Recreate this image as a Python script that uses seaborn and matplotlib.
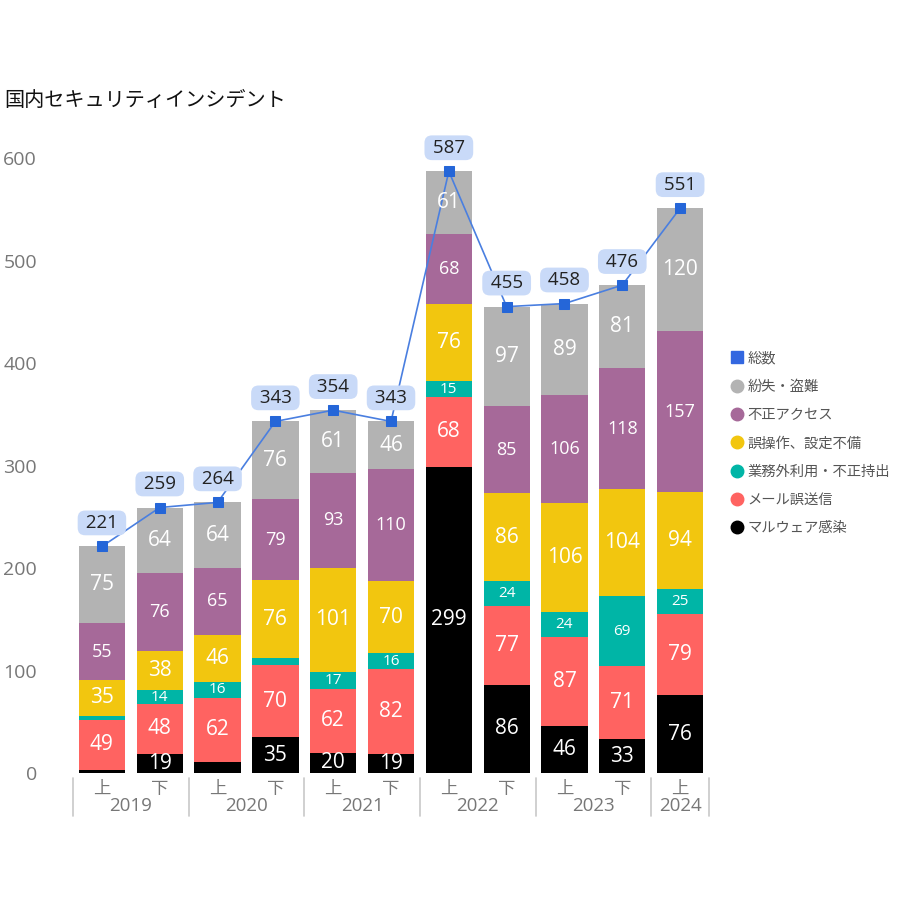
import matplotlib

matplotlib.use("Agg")

import matplotlib.pyplot as plt
import matplotlib.transforms as mtransforms
from matplotlib.lines import Line2D
import numpy as np
import pandas as pd
import seaborn as sns

# ---- データ ----
periods = ["2019上", "2019下", "2020上", "2020下", "2021上", "2021下",
           "2022上", "2022下", "2023上", "2023下", "2024上"]
half_labels = ["上", "下", "上", "下", "上", "下", "上", "下", "上", "下", "上"]
years = ["2019", "2020", "2021", "2022", "2023", "2024"]

malware = [3, 19, 11, 35, 20, 19, 299, 86, 46, 33, 76]
mail_misdelivery = [49, 48, 62, 70, 62, 82, 68, 77, 87, 71, 79]
misuse = [4, 14, 16, 7, 17, 16, 15, 24, 24, 69, 25]
misoperation = [35, 38, 46, 76, 101, 70, 76, 86, 106, 104, 94]
unauthorized = [55, 76, 65, 79, 93, 110, 68, 85, 106, 118, 157]
loss_theft = [75, 64, 64, 76, 61, 46, 61, 97, 89, 81, 120]
totals = [221, 259, 264, 343, 354, 343, 587, 455, 458, 476, 551]

series_names = ["マルウェア感染", "メール誤送信", "業務外利用・不正持出",
                "誤操作、設定不備", "不正アクセス", "紛失・盗難"]
series_values = [malware, mail_misdelivery, misuse, misoperation, unauthorized, loss_theft]
series_colors = ["#000000", "#ff6361", "#00b5a6", "#f2c60f", "#a66999", "#b3b3b3"]
label_sizes = [15, 15, 11, 15, 13, 15]

FONT = ["Noto Sans CJK JP", "DejaVu Sans"]
NUM_FONT = ["Open Sans", "Noto Sans CJK JP"]

sns.set_style("white")
plt.rcParams["font.family"] = FONT

fig = plt.figure(figsize=(9.22, 9.22), dpi=100)
ax = fig.add_axes([0.0792, 0.1616, 0.6898, 0.7226])

df = pd.DataFrame({"period": periods})
cum = np.zeros(len(periods))
cums = []
for vals in series_values:
    cum = cum + np.array(vals)
    cums.append(cum.copy())

# 積み上げ: 上の層から順に累積値で描画
for name, color, c in reversed(list(zip(series_names, series_colors, cums))):
    df["cum"] = c
    sns.barplot(data=df, x="period", y="cum", color=color, width=0.8,
                saturation=1, linewidth=0, ax=ax)

# 値ラベル
for vals, c, size in zip(series_values, cums, label_sizes):
    for i, (v, top) in enumerate(zip(vals, c)):
        if v < 12:
            continue
        ax.text(i, top - v / 2, str(v), ha="center", va="center",
                color="white", fontsize=size, family=NUM_FONT)

# 総数ライン
xpos = np.arange(len(periods))
sns.lineplot(x=xpos, y=totals, color="#4a7fe0", linewidth=1.2, marker="s",
             markersize=7, markerfacecolor="#2566d8", markeredgecolor="#2566d8",
             ax=ax)
for i, t in enumerate(totals):
    ax.text(i, t + 23, f" {t} ", ha="center", va="center", color="#222222",
            fontsize=13.5, family=NUM_FONT,
            bbox=dict(boxstyle="round,pad=0.18,rounding_size=0.4",
                      facecolor="#c9daf8", edgecolor="none"))

ax.set_xlim(-0.5, len(periods) - 0.5)
ax.set_ylim(0, 650)
ax.set_yticks([0, 100, 200, 300, 400, 500, 600])
ax.tick_params(axis="y", length=0, pad=26, labelsize=14, labelcolor="#777777")
for lbl in ax.get_yticklabels():
    lbl.set_family(NUM_FONT)
ax.set_xticks(xpos)
ax.set_xticklabels(half_labels)
ax.tick_params(axis="x", length=0, pad=5, labelsize=12.5, labelcolor="#777777")
ax.set_xlabel("")
ax.set_ylabel("")
for s in ax.spines.values():
    s.set_visible(False)
ax.grid(False)

# 年ラベルと区切り線
trans = mtransforms.blended_transform_factory(ax.transData, ax.transAxes)
year_groups = [(0, 1), (2, 3), (4, 5), (6, 7), (8, 9), (10, 10)]
for yr, (a, b) in zip(years, year_groups):
    ax.text((a + b) / 2, -0.05, yr, transform=trans, ha="center", va="center",
            fontsize=13.5, color="#777777", family=NUM_FONT)
bounds = [-0.5, 1.5, 3.5, 5.5, 7.5, 9.5, 10.5]
for bx in bounds:
    ax.plot([bx, bx], [-0.008, -0.064], transform=trans, color="#c8c8c8",
            linewidth=1.2, clip_on=False)

# 凡例
handles = [Line2D([], [], marker="s", linestyle="", color="#3367e0", markersize=9)]
labels = ["総数"]
for name, color in reversed(list(zip(series_names, series_colors))):
    handles.append(Line2D([], [], marker="o", linestyle="", color=color, markersize=9))
    labels.append(name)
leg = fig.legend(handles, labels, loc="upper left", bbox_to_anchor=(0.785, 0.625),
                 frameon=False, fontsize=10.3, handletextpad=0.25, handlelength=1.0,
                 labelspacing=1.0, borderaxespad=0)
for t in leg.get_texts():
    t.set_color("#555555")

fig.text(0.005, 0.891, "国内セキュリティインシデント", fontsize=14.5, color="#111111",
         ha="left", va="center")

fig.savefig("out.png", dpi=100)
plt.close(fig)
